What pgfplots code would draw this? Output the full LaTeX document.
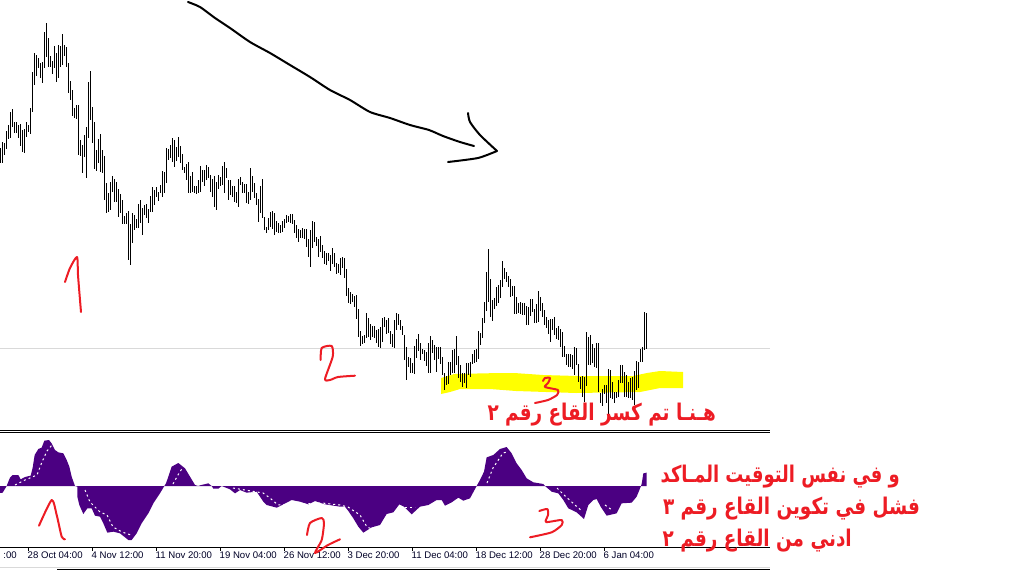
\documentclass[border=0pt]{standalone}
\usepackage{pgfplots}
\usepackage{pgfplotstable}
\usepackage{fontspec}
\pgfplotsset{compat=1.18}
\setmainfont{Liberation Sans}
\newfontfamily\arabicfont[Script=Arabic]{DejaVu Sans}
\TeXXeTstate=1
\definecolor{histo}{HTML}{4B0082}
\definecolor{redink}{HTML}{ED1C24}
\definecolor{gridgrey}{HTML}{D9D9D9}
\definecolor{hilite}{HTML}{FFFF00}
% High/low of each bar, read in 3x crop coordinates
\pgfplotstableread{
z hi lo
1 445 490
7 427 488
13 430 465
19 393 448
25 376 418
31 336 415
37 327 380
43 365 400
49 365 400
55 375 415
61 372 437
67 390 455
73 388 458
79 365 412
85 375 397
91 323 402
97 217 335
103 160 255
109 165 228
115 175 205
121 188 235
127 185 248
133 95 205
139 70 170
145 115 200
151 168 200
157 183 222
163 138 205
169 160 245
175 135 233
181 138 200
187 102 195
193 135 168
199 140 200
205 188 278
211 243 300
217 270 348
223 325 355
229 315 358
235 315 465
241 420 468
247 435 518
253 405 470
259 380 533
265 245 413
271 213 360
277 320 430
283 367 508
289 450 512
295 418 490
301 403 515
307 450 520
313 467 600
319 548 638
325 578 637
331 546 630
337 528 575
343 537 605
349 545 605
355 567 650
361 582 640
367 600 672
373 648 672
379 638 672
385 632 780
391 672 795
397 640 728
403 645 690
409 657 685
415 613 685
421 600 670
427 625 705
433 615 645
439 612 655
445 628 668
451 588 635
457 560 635
463 570 615
469 560 590
475 575 603
481 555 580
487 513 590
493 515 580
499 445 548
505 447 480
511 435 475
517 415 485
523 420 500
529 440 482
535 411 470
541 438 488
547 463 510
553 500 518
559 492 540
565 487 578
571 527 578
577 516 575
583 557 580
589 557 582
595 540 580
601 497 575
607 510 545
613 510 558
619 495 540
625 500 535
631 525 575
637 537 592
643 527 620
649 545 630
655 525 567
661 530 558
667 498 555
673 487 580
679 503 535
685 540 600
691 540 585
697 557 590
703 558 605
709 577 610
715 537 620
721 530 555
727 547 580
733 553 578
739 553 610
745 575 612
751 505 600
757 528 575
763 548 593
769 580 615
775 597 665
}\barsA
\pgfplotstableread{
z hi lo
31 167 248
37 147 265
43 262 300
49 290 310
55 265 300
61 245 290
67 243 297
73 248 315
79 272 305
85 280 308
91 285 308
97 272 305
103 267 295
109 255 280
115 258 275
121 253 280
127 252 283
133 270 310
139 285 323
145 298 335
151 300 325
157 295 325
163 297 327
169 297 350
175 327 380
181 300 410
187 273 355
193 275 335
199 322 347
205 327 380
211 318 367
217 345 385
223 363 403
229 368 405
235 368 392
241 375 422
247 355 403
253 370 410
259 400 432
265 403 430
271 385 435
277 382 415
283 383 445
289 417 497
295 475 520
301 487 522
307 493 515
313 497 530
319 495 568
325 537 620
331 603 648
337 617 643
343 615 640
349 550 625
355 565 620
361 583 630
367 587 620
373 587 625
379 600 640
385 597 650
391 590 655
397 563 635
403 562 590
409 570 612
415 563 608
421 603 642
427 613 650
433 570 655
439 550 600
445 553 585
451 570 600
457 587 615
463 615 690
469 650 750
475 682 710
481 685 730
487 698 728
493 648 733
499 628 683
505 612 662
511 640 690
517 657 672
523 660 692
529 667 707
535 640 728
541 618 730
547 630 670
553 645 690
559 650 725
565 650 688
571 652 702
577 680 735
583 730 780
589 738 765
595 697 762
601 697 735
607 660 730
613 657 728
619 618 705
625 678 745
631 705 755
637 730 770
643 728 760
649 700 775
655 700 735
661 695 740
667 672 702
673 660 700
679 657 697
685 603 687
691 610 645
697 565 625
703 517 580
709 427 543
715 357 517
721 447 560
727 510 572
733 503 537
739 472 527
745 465 520
751 450 505
757 393 470
763 415 447
769 425 455
775 437 472
}\barsB
\pgfplotstableread{
z hi lo
151 117 170
157 138 168
163 137 222
169 170 222
175 190 220
181 185 222
187 190 225
193 190 225
199 198 255
205 200 255
211 178 228
217 178 215
223 208 250
229 192 248
235 153 245
241 170 212
247 190 230
253 210 255
259 230 263
265 240 283
271 238 305
277 238 270
283 232 285
289 265 298
295 257 300
301 268 320
307 275 352
313 318 352
319 343 375
325 342 380
331 343 382
337 345 388
343 320 405
349 323 375
355 373 425
361 410 447
367 408 472
373 410 485
379 277 437
385 290 375
391 285 375
397 313 368
403 323 382
409 310 385
415 310 455
421 458 490
427 448 497
433 435 462
439 435 490
445 388 540
451 390 475
457 425 478
463 455 488
469 455 475
475 420 470
481 375 428
487 375 430
493 395 470
499 405 470
505 425 475
511 415 475
517 412 480
523 393 495
529 362 450
535 365 445
541 328 365
547 322 365
553 217 330
559 218 328
}\barsC
% Oscillator histogram outline, 3x crop coordinates
\pgfplotstableread{
z v
0 183
0 204
8 203
20 183
25 170
30 158
38 150
55 150
62 163
75 156
92 152
98 128
104 90
115 72
125 68
133 47
147 45
155 55
165 75
175 82
190 85
200 105
208 125
215 155
225 183
232 185
232 215
238 240
250 267
262 250
275 250
285 272
300 275
310 295
322 323
340 320
360 325
385 345
395 345
410 325
425 295
445 265
460 235
480 205
493 183
498 175
505 155
515 125
535 114
555 130
570 155
585 180
595 183
600 181
625 175
635 183
640 191
655 191
665 183
690 193
705 205
720 195
740 203
770 200
790 230
800 240
830 248
850 238
875 225
900 230
925 238
945 228
975 238
1020 245
1035 245
1045 258
1060 280
1075 305
1090 323
1115 307
1140 300
1160 267
1180 262
1198 238
1212 245
1235 268
1260 245
1285 240
1310 225
1325 225
1335 242
1355 232
1375 218
1390 227
1410 220
1430 183
1440 165
1452 140
1460 97
1480 90
1500 72
1520 66
1535 85
1550 115
1565 135
1580 160
1600 172
1630 177
1635 183
1655 200
1675 205
1690 225
1705 250
1730 262
1752 282
1765 240
1780 225
1790 222
1802 245
1820 272
1850 265
1865 235
1895 233
1910 215
1923 183
1925 177
1930 145
1940 143
1940 183
}\histo
\begin{document}
\begin{tikzpicture}[x=1pt,y=1pt]
\path[use as bounding box] (0pt,0pt) rectangle (1026pt,571pt);
\clip (0pt,0pt) rectangle (1026pt,571pt);
% oscillator panel
\begin{axis}[
  at={(0pt,24pt)},anchor=south west,
  width=770pt,height=114pt,scale only axis,
  xmin=0,xmax=770,ymin=433,ymax=547,y dir=reverse,
  axis x line=bottom,axis y line=none,
  axis line style={black,line width=1pt,-},
  xtick={28,92,156,220,284,348,412,476,540,604},
  xticklabels={28 Oct 04:00,4 Nov 12:00,11 Nov 20:00,19 Nov 04:00,26 Nov 12:00,3 Dec 20:00,11 Dec 04:00,18 Dec 12:00,28 Dec 20:00,6 Jan 04:00},
  xticklabel style={anchor=north west,font=\fontsize{9.6}{10}\selectfont,text=black!85!blue,inner sep=0pt,xshift=-0.5pt,yshift=-1pt},
  tick align=outside,major tick length=4pt,
  tick style={black,line width=1pt},
  clip=false,
]
\addplot[fill=histo,draw=none] table[x expr=\thisrow{z}/3,y expr=425+\thisrow{v}/3]{\histo};
\pgfplotsset{sig/.style={white,line width=1pt,dash pattern=on 2pt off 3pt}}
\addplot[sig] coordinates {(15,485)(25,480)(37,475)(42,462)(47,451)(52,445)};
\addplot[sig] coordinates {(85,490)(90,502)(100,512)(107,515)(113,527)(122,532)(131,535)};
\addplot[sig] coordinates {(173,484)(178,475)(183,467)};
\addplot[sig] coordinates {(233,488)(263,493)(270,498)(278,505)(322,503)(340,505)(348,507)(360,515)(367,527)(372,529)};
\addplot[sig] coordinates {(405,507)(415,507)};
\addplot[sig] coordinates {(487,483)(493,468)(503,453)(507,452)};
\addplot[sig] coordinates {(557,488)(563,494)(575,505)(582,511)};
\addplot[sig] coordinates {(605,505)(612,510)};
\node[anchor=east,font=\fontsize{9.6}{10}\selectfont,text=black!85!blue,inner sep=0pt] at (axis cs:17,555.5) {:00};
\end{axis}
% page overlay in pixel coordinates
\begin{axis}[
  at={(0pt,0pt)},anchor=south west,
  width=1026pt,height=571pt,scale only axis,
  xmin=0,xmax=1026,ymin=0,ymax=571,y dir=reverse,
  hide axis,
]
\addplot[fill=hilite,draw=none] coordinates {(441,378)(448,376)(454,374)(500,373)(514,373)(543,375)(577,376)(633,376)(647,373)(660,371)(683,372)(683,388)(660,388)(640,392)(576,393)(516,391)(490,389)(460,389)(450,392)(441,394)};
\addplot[gridgrey,line width=1pt] coordinates {(0,348.5)(770,348.5)};
\addplot[black,line width=1pt] coordinates {(0,430.5)(770,430.5)};
\addplot[black,line width=1pt] coordinates {(0,432.5)(770,432.5)};
\addplot[gridgrey,line width=1pt] coordinates {(0,567.5)(770,567.5)};
\addplot[black,line width=1pt] coordinates {(57,569.5)(770,569.5)};
\pgfplotsset{hl/.style={draw=none,mark=none,forget plot,error bars/.cd,y dir=both,y explicit,error mark=none,error bar style={black,line width=1pt}}}
\addplot[hl] table[x expr=\thisrow{z}/3+0.17,y expr=(\thisrow{hi}+\thisrow{lo})/6,y error expr=(\thisrow{lo}-\thisrow{hi})/6]{\barsA};
\addplot[hl] table[x expr=\thisrow{z}/3+250.17,y expr=130+(\thisrow{hi}+\thisrow{lo})/6,y error expr=(\thisrow{lo}-\thisrow{hi})/6]{\barsB};
\addplot[hl] table[x expr=\thisrow{z}/3+460.17,y expr=240+(\thisrow{hi}+\thisrow{lo})/6,y error expr=(\thisrow{lo}-\thisrow{hi})/6]{\barsC};
% black hand-drawn arrow
\pgfplotsset{ink/.style={line width=2pt,smooth,tension=0.4,line cap=round,line join=round}}
\addplot[black,ink] coordinates {(188,2)(200,7)(215,18)(230,28)(250,42)(270,53)(290,65)(310,77)(330,90)(350,100)(370,112)(390,118)(410,125)(429,130)(443,136)(460,142)(474,146)};
\addplot[black,ink] coordinates {(468,113)(470,122)(480,135)(497,151)};
\addplot[black,ink] coordinates {(497,151)(478,158)(448,162)};
% red hand-written digits
\addplot[redink,ink] coordinates {(65,282)(70,268)(77,257)(78,275)(80,300)(81,312)};
\addplot[redink,ink] coordinates {(320.7,360)(321.7,348)(331.7,346)(332.7,356.7)(325,379)(330,380)(338,377)(355,375.7)};
\addplot[redink,ink] coordinates {(543,381)(545,378)(550,378)(548,383)(545,387)(558,390)(557,395)(548,400)(535,403)};
\addplot[redink,ink] coordinates {(39,525.7)(51.7,500)(56.7,515)(61.7,536.7)(65,539.3)};
\addplot[redink,ink] coordinates {(307,535)(310,523)(321.7,518)(324,523)(321.7,540)(315,553)(328,545)(340,539.3)};
\addplot[redink,ink] coordinates {(539.3,511)(547.3,509)(548,515)(546,522)(561.7,520)(561.7,525)(551.7,532.3)(530,537.3)};
% Arabic notes
\pgfplotsset{every axis/.append style={}}
\node[anchor=east,text=redink,inner sep=0pt,font=\arabicfont\bfseries\fontsize{23}{25}\selectfont] at (axis cs:716,415) {\scalebox{0.80}[1]{\beginR هـنـا تم كسر القاع رقم ٢\endR}};
\node[anchor=east,text=redink,inner sep=0pt,font=\arabicfont\bfseries\fontsize{23}{25}\selectfont] at (axis cs:900,477) {\scalebox{0.78}[1]{\beginR و في نفس التوقيت المـاكد\endR}};
\node[anchor=east,text=redink,inner sep=0pt,font=\arabicfont\bfseries\fontsize{23}{25}\selectfont] at (axis cs:920,509) {\scalebox{0.80}[1]{\beginR فشل في تكوين القاع رقم ٣\endR}};
\node[anchor=east,text=redink,inner sep=0pt,font=\arabicfont\bfseries\fontsize{23}{25}\selectfont] at (axis cs:852,541) {\scalebox{0.80}[1]{\beginR ادني من القاع رقم ٢\endR}};
\end{axis}
\end{tikzpicture}
\end{document}
